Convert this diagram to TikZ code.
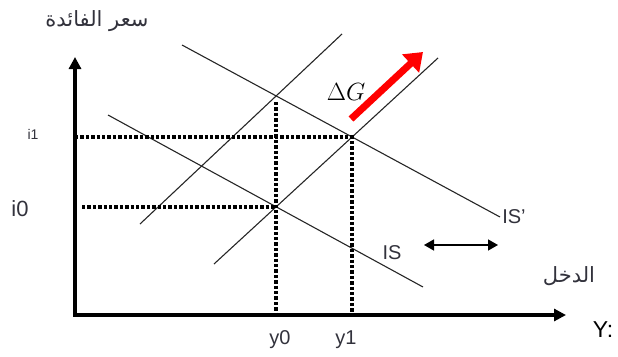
\documentclass[tikz,border=0pt]{standalone}
\usepackage{fontspec}
\setmainfont{Liberation Sans}
\newfontfamily\arabicfont[Script=Arabic]{DejaVu Sans}
\TeXXeTstate=1
\usetikzlibrary{arrows.meta}
\definecolor{LabelGray}{RGB}{50,50,60}
\tikzset{
  axisline/.style={line width=3.6pt, -{Triangle[length=12pt,width=12pt]}},
  curveline/.style={line width=1.1pt, black!85},
  dotline/.style={line width=3.4pt, dash pattern=on 3.4pt off 2pt},
  shiftarrow/.style={line width=7pt, red, -{Triangle[length=17pt,width=24pt]}},
  twoway/.style={line width=1.4pt, {Triangle[length=10pt,width=11pt]}-{Triangle[length=10pt,width=11pt]}},
  lbl/.style={text=LabelGray, inner sep=1pt},
  arlbl/.style={text=LabelGray, font=\arabicfont\fontsize{21}{24}\selectfont, inner sep=1pt}
}
\begin{document}
\begin{tikzpicture}[x=1pt, y=-1pt]
  \useasboundingbox (0,0) rectangle (618,356);
  % axes
  \coordinate (O) at (75,315);
  \coordinate (top) at (75,57);
  \coordinate (right) at (566,315);
  \draw[axisline] (O) -- (top);
  \draw[axisline] ([xshift=-1.8pt]O) -- (right);
  % equilibria
  \coordinate (e0) at (276,207);
  \coordinate (e1) at (352,137);
  % curves
  \coordinate (is-a) at (108,115);  \coordinate (is-b) at (423,287);
  \coordinate (isp-a) at (182,45);  \coordinate (isp-b) at (500,217);
  \coordinate (lm-a) at (140,224);  \coordinate (lm-b) at (342,34);
  \coordinate (lmp-a) at (214,264); \coordinate (lmp-b) at (438,58);
  \draw[curveline] (is-a) -- (is-b);
  \draw[curveline] (isp-a) -- (isp-b);
  \draw[curveline] (lm-a) -- (lm-b);
  \draw[curveline] (lmp-a) -- (lmp-b);
  % dotted guides
  \draw[dotline] (O |- e1) -- (e1) -- (e1 |- O);
  \draw[dotline] ([xshift=7pt]O |- e0) -- (e0);
  \draw[dotline] (276,102) -- (e0 |- O);
  % shift
  \coordinate (g-a) at (351,119);
  \coordinate (g-b) at (423,52);
  \draw[shiftarrow] (g-a) -- (g-b);
  \node[font=\fontsize{23}{26}\selectfont] (dg) at (346,92) {$\Delta G$};
  \coordinate (w-a) at (424,245);
  \coordinate (w-b) at (498,245);
  \draw[twoway] (w-a) -- (w-b);
  % labels
  \node[lbl, font=\fontsize{14}{16}\selectfont] (i1) at (33,134) {i1};
  \node[lbl, font=\fontsize{22}{24}\selectfont] (i0) at (20,209) {i0};
  \node[lbl, font=\fontsize{20}{22}\selectfont] (y0) at (280,340) {y0};
  \node[lbl, font=\fontsize{20}{22}\selectfont] (y1) at (346,340) {y1};
  \node[lbl, font=\fontsize{20}{22}\selectfont] (is) at (392,253) {IS};
  \node[lbl, font=\fontsize{20}{22}\selectfont] (isp) at (514,217) {IS'};
  \node[font=\fontsize{23}{26}\selectfont] (ylab) at (603,330) {Y:};
  \node[arlbl] (rate) at (97,21) {\beginR سعر الفائدة\endR};
  \node[arlbl] (income) at (569,276) {\beginR الدخل\endR};
\end{tikzpicture}
\end{document}
